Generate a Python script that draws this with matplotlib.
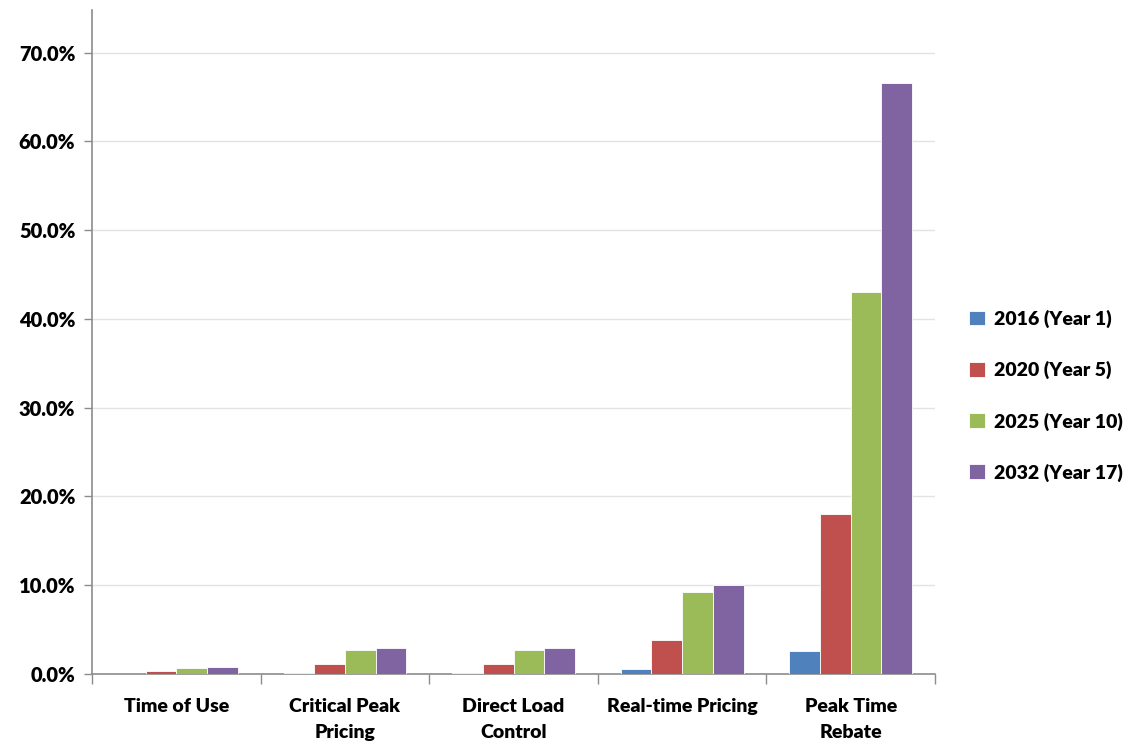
import matplotlib.pyplot as plt
import numpy as np
from matplotlib.ticker import FuncFormatter, FixedLocator

plt.rcParams['font.family'] = ['Lato', 'DejaVu Sans']
plt.rcParams['font.weight'] = 'heavy'

categories = ['Time of Use', 'Critical Peak\nPricing', 'Direct Load\nControl',
              'Real-time Pricing', 'Peak Time\nRebate']
series_names = ['2016 (Year 1)', '2020 (Year 5)', '2025 (Year 10)', '2032 (Year 17)']
year_2016 = [0.0, 0.15, 0.1, 0.55, 2.6]
year_2020 = [0.3, 1.1, 1.1, 3.8, 18.0]
year_2025 = [0.7, 2.7, 2.65, 9.2, 43.0]
year_2032 = [0.8, 2.9, 2.9, 10.0, 66.6]
colors = ['#4F81BD', '#C0504D', '#9BBB59', '#8064A2']

fig = plt.figure(figsize=(11.32, 7.44), dpi=100)
ax = fig.add_axes([0.0813, 0.0941, 0.7447, 0.8925])

x = np.arange(len(categories))
width = 0.182
all_series = [year_2016, year_2020, year_2025, year_2032]
for i, vals in enumerate(all_series):
    ax.bar(x + (i - 1.5) * width, vals, width, color=colors[i],
           label=series_names[i], edgecolor='white', linewidth=0.6, zorder=3)

ax.set_xlim(-0.5, len(categories) - 0.5)
ax.set_ylim(0, 74.8)
ax.set_yticks(np.arange(0, 71, 10))
ax.yaxis.set_major_formatter(FuncFormatter(lambda v, p: f'{v:.1f}%'))
ax.grid(axis='y', color='#e3e3e3', linewidth=1, zorder=0)

# category boundaries get the tick marks, labels sit in the middle
ax.xaxis.set_major_locator(FixedLocator(np.arange(-0.5, len(categories), 1)))
ax.xaxis.set_major_formatter(FuncFormatter(lambda v, p: ''))
ax.set_xticks(x, minor=True)
ax.set_xticklabels(categories, minor=True, fontsize=14, fontweight='heavy',
                   linespacing=1.7)
ax.tick_params(axis='x', which='major', length=7, color='#8c8c8c', width=1)
ax.tick_params(axis='x', which='minor', length=0, pad=17)
ax.tick_params(axis='y', length=6, color='#8c8c8c', width=1, labelsize=14.5, pad=6)

for side in ['top', 'right']:
    ax.spines[side].set_visible(False)
for side in ['left', 'bottom']:
    ax.spines[side].set_color('#8c8c8c')
    ax.spines[side].set_linewidth(1.2)

ax.legend(loc='center left', bbox_to_anchor=(1.02, 0.419), frameon=False,
          prop={'size': 14, 'weight': 'heavy'}, handlelength=0.8,
          handleheight=0.8, handletextpad=0.45, labelspacing=1.7)

fig.savefig('out.png', dpi=100)
